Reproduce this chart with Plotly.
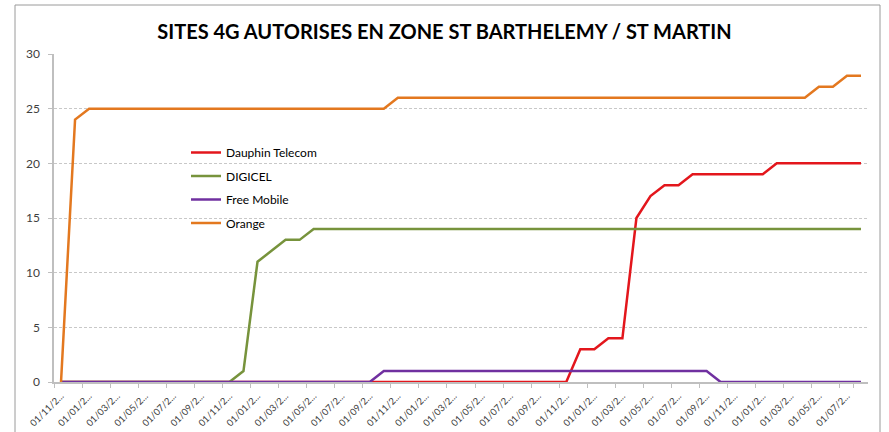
import plotly.graph_objects as go

# Monthly categories: Nov 2013 .. Aug 2018 (58 months)
months = []
y, m = 2013, 11
for _ in range(58):
    months.append(f"01/{m:02d}/{y}")
    m += 1
    if m > 12:
        m = 1
        y += 1

dauphin = [0]*37 + [3, 3, 4, 4, 15, 17, 18, 18] + [19]*6 + [20]*7
digicel = [0]*13 + [1, 11, 12, 13, 13] + [14]*40
free_mobile = [0]*23 + [1]*24 + [0]*11
orange = [0, 24] + [25]*22 + [26]*30 + [27, 27, 28, 28]

series_names = ["Dauphin Telecom", "DIGICEL", "Free Mobile", "Orange"]
series_values = [dauphin, digicel, free_mobile, orange]
series_colors = ["#E3161C", "#77933C", "#7030A0", "#E3781F"]

tick_vals = months[::2]
tick_text = [s[:7] + "..." for s in tick_vals]

title_text = "SITES 4G AUTORISES EN ZONE ST BARTHELEMY / ST MARTIN"

fig = go.Figure()
for i, (name, vals, col) in enumerate(zip(series_names, series_values, series_colors)):
    fig.add_trace(go.Scatter(
        x=months, y=vals, mode="lines", name=name,
        line=dict(color=col, width=2.5),
        legendgroup=f"g{i}",
    ))

W, H = 889, 432
L, R, T, B = 54, 21, 54, 50
pw, ph = W - L - R, H - T - B

def px_x(px):
    return (px - L) / pw

def px_y(py):
    return (H - B - py) / ph

fig.update_layout(
    width=W, height=H,
    margin=dict(l=L, r=R, t=T, b=B, autoexpand=False),
    paper_bgcolor="white", plot_bgcolor="white",
    font=dict(family="Lato, 'Open Sans', sans-serif", color="#404040", size=11),
    title=dict(text="<b>" + title_text + "</b>", x=0.5, xanchor="center",
               y=1 - 32 / H, yanchor="middle",
               font=dict(family="Lato, sans-serif", size=20, color="#000000")),
    showlegend=True,
    legend=dict(x=px_x(186), xanchor="left", y=px_y(138), yanchor="top",
                bgcolor="rgba(0,0,0,0)", font=dict(size=12, color="#000000"),
                tracegroupgap=4.5, traceorder="grouped"),
    xaxis=dict(type="category", range=[-0.5, len(months) - 0.5],
               tickmode="array", tickvals=tick_vals, ticktext=tick_text,
               tickangle=-45, tickson="boundaries", ticks="outside", ticklen=4,
               tickcolor="#BFBFBF", showgrid=False, showline=True,
               linecolor="#BFBFBF", linewidth=1.5, zeroline=False,
               automargin=False, ticklabelstandoff=3,
               tickfont=dict(size=9.5, color="#404040")),
    yaxis=dict(range=[0, 30], dtick=5, tick0=0, showgrid=True,
               gridcolor="#C8C8C8", griddash="3px,2px", gridwidth=1,
               showline=True, linecolor="#BFBFBF", linewidth=1.5,
               ticks="outside", ticklen=4, tickcolor="#BFBFBF",
               zeroline=False, automargin=False, ticklabelstandoff=6,
               tickfont=dict(size=12, color="#404040")),
    shapes=[dict(type="rect", xref="paper", yref="paper",
                 x0=px_x(15), x1=px_x(880), y0=px_y(440), y1=px_y(5),
                 line=dict(color="#9A9A9A", width=1), fillcolor="rgba(0,0,0,0)",
                 layer="below")],
)

fig.write_html("out.html", config={"displayModeBar": False},
               post_script="document.body.style.margin='0';document.body.style.padding='0';")
